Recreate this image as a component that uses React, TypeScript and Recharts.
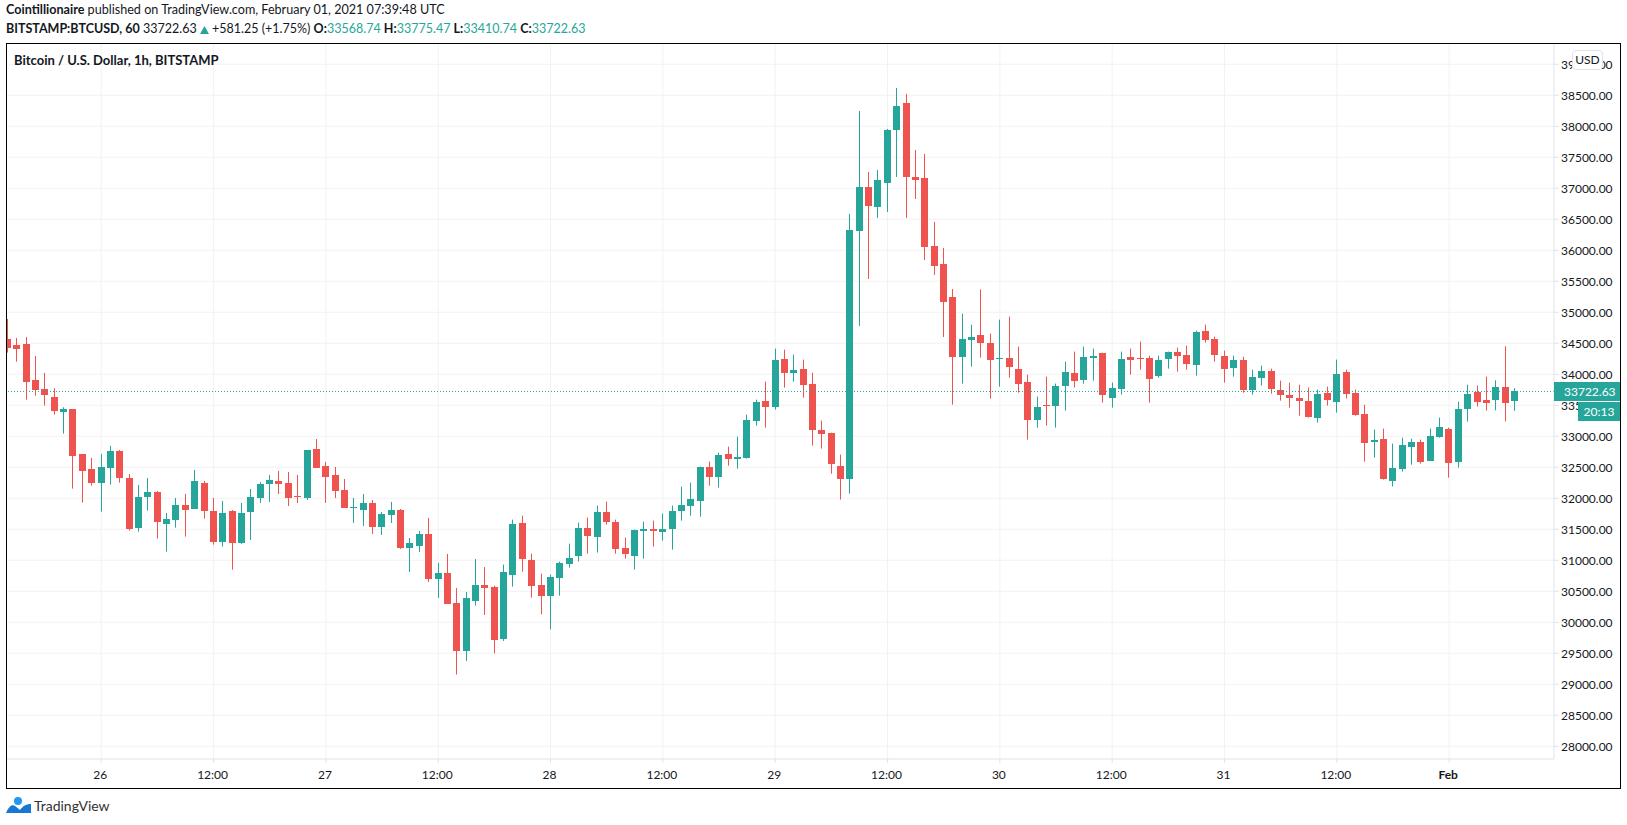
import React from 'react';
import { Bar, CartesianGrid, ComposedChart, ReferenceLine, XAxis, YAxis } from 'recharts';

const opens = [
  34570, 34473, 34489, 33909, 33763, 33634, 33398, 33441, 32715, 32473,
  32253, 32495, 32764, 32328, 31527, 32027, 32102, 31592, 31656, 31893,
  31834, 32247, 31796, 31301, 31796, 31280, 31780, 32005, 32231, 32280,
  32247, 32038, 32005, 32796, 32522, 32376, 32134, 31844, 31812, 31925,
  31538, 31731, 31812, 31199, 31231, 31425, 30699, 30796, 30312, 29538,
  30344, 30602, 30575, 29726, 30769, 31608, 31011, 30608, 30430, 30721,
  30947, 31075, 31527, 31382, 31785, 31624, 31204, 31075, 31479, 31511,
  31463, 31511, 31801, 31882, 31963, 32511, 32350, 32720, 32640, 32656,
  33253, 33575, 33479, 34253, 34027, 34091, 33849, 33108, 33059, 32527,
  32317, 36312, 37022, 36699, 37086, 37941, 38376, 37183, 37167, 36070,
  35780, 35247, 34274, 34559, 34640, 34511, 34253, 34269, 34091, 33882,
  33269, 33511, 33495, 33817, 34027, 33914, 34269, 34349, 33624, 33769,
  34285, 34269, 34269, 33978, 34253, 34366, 34317, 34156, 34704, 34575,
  34301, 34108, 34237, 33753, 33946, 34059, 33753, 33672, 33624, 33575,
  33301, 33704, 33559, 34043, 33704, 33366, 32914, 32962, 32280, 32479,
  32833, 32914, 32608, 32995, 33124, 32591, 33446, 33720, 33591, 33591,
  33790, 33568.74,
];

const closes = [
  34430, 34414, 33882, 33753, 33672, 33414, 33441, 32688, 32446, 32253,
  32506, 32764, 32333, 31511, 32022, 32102, 31624, 31667, 31893, 31817,
  32280, 31801, 31301, 31764, 31285, 31764, 32022, 32231, 32296, 32231,
  32005, 32022, 32780, 32495, 32344, 32118, 31844, 31860, 31925, 31538,
  31747, 31812, 31199, 31280, 31425, 30699, 30796, 30296, 29538, 30393,
  30602, 30554, 29710, 30817, 31592, 31027, 30592, 30430, 30737, 30963,
  31043, 31527, 31398, 31785, 31624, 31188, 31108, 31495, 31511, 31479,
  31511, 31801, 31898, 31995, 32511, 32350, 32705, 32640, 32672, 33269,
  33559, 33479, 34237, 34027, 34075, 33833, 33108, 33043, 32559, 32317,
  36328, 37022, 36715, 37134, 37941, 38328, 37183, 37134, 36054, 35747,
  35167, 34274, 34575, 34608, 34511, 34237, 34269, 34124, 33850, 33269,
  33479, 33495, 33817, 34043, 33898, 34285, 34301, 33672, 33785, 34253,
  34237, 34253, 33930, 34237, 34366, 34301, 34172, 34688, 34559, 34317,
  34091, 34237, 33753, 33962, 34059, 33769, 33672, 33624, 33575, 33317,
  33688, 33591, 34011, 33688, 33350, 32898, 32946, 32317, 32495, 32866,
  32914, 32591, 33011, 33156, 32575, 33446, 33688, 33559, 33543, 33790,
  33538, 33722.63,
];

const highs = [
  34892, 34586, 34602, 34296, 34022, 33774, 33468, 33441, 32715, 32651,
  32715, 32844, 32780, 32393, 32215, 32328, 32118, 31764, 32005, 32070,
  32457, 32280, 32005, 31957, 31812, 31925, 32151, 32263, 32376, 32441,
  32425, 32376, 32780, 32957, 32586, 32505, 32312, 32005, 32070, 31973,
  31780, 31941, 31828, 31360, 31473, 31683, 30957, 31102, 30554, 30490,
  31021, 30892, 30592, 30930, 31656, 31720, 31108, 30785, 30769, 30979,
  31269, 31608, 31688, 31882, 31946, 31656, 31366, 31495, 31624, 31640,
  31753, 31882, 32188, 32253, 32511, 32592, 32737, 32833, 32995, 33350,
  33591, 33882, 34414, 34398, 34317, 34237, 34027, 33253, 33059, 32704,
  36586, 38247, 37264, 37296, 37957, 38618, 38522, 37618, 37554, 36457,
  36038, 35376, 34978, 34801, 35367, 34656, 34882, 34930, 34446, 33995,
  33640, 33962, 33850, 34204, 34366, 34446, 34414, 34349, 33866, 34366,
  34414, 34527, 34301, 34301, 34366, 34430, 34462, 34704, 34801, 34608,
  34382, 34301, 34285, 34075, 34140, 34091, 33898, 33866, 33833, 33785,
  33753, 33801, 34237, 34075, 33753, 33511, 33108, 33124, 32882, 32978,
  32962, 32946, 33124, 33301, 33140, 33559, 33833, 33817, 33962, 33903,
  34452, 33775.47,
];

const lows = [
  34350, 34204, 33591, 33656, 33495, 33350, 33043, 32156, 31930, 32204,
  31785, 32221, 32253, 31479, 31463, 31801, 31350, 31140, 31527, 31382,
  31834, 31672, 31253, 31221, 30850, 31264, 31328, 31925, 31941, 32070,
  31876, 31925, 31973, 32495, 31925, 32005, 31844, 31602, 31554, 31425,
  31409, 31602, 31183, 30812, 31134, 30651, 30393, 30296, 29158, 29376,
  30269, 30118, 29500, 29700, 30575, 30817, 30398, 30129, 29887, 30430,
  30882, 30979, 31108, 31124, 31575, 31108, 31027, 30850, 31027, 31221,
  31317, 31172, 31640, 31720, 31704, 32204, 32172, 32527, 32479, 32640,
  33172, 33140, 33430, 33785, 33882, 33624, 32850, 32801, 32398, 31979,
  32075, 34780, 35538, 36522, 36618, 37183, 36522, 36828, 35844, 35602,
  34602, 33511, 33850, 34124, 34269, 33608, 33800, 33946, 33704, 32946,
  33140, 33172, 33140, 33414, 33785, 33850, 33898, 33543, 33462, 33672,
  33995, 34075, 33543, 33946, 34091, 34043, 34075, 33978, 34511, 34204,
  33866, 33962, 33704, 33672, 33817, 33688, 33575, 33462, 33333, 33301,
  33220, 33495, 33382, 33608, 33333, 32591, 32656, 32301, 32190, 32430,
  32543, 32559, 32608, 32978, 32333, 32495, 33237, 33479, 33414, 33419,
  33242, 33410.74,
];

// one label every 12 candles, starting at Jan 26 00:00
const timeTicks = [10, 22, 34, 46, 58, 70, 82, 94, 106, 118, 130, 142, 154];
const timeLabels = ['26', '12:00', '27', '12:00', '28', '12:00', '29', '12:00', '30', '12:00', '31', '12:00', 'Feb'];
const priceTicks = [
  28000, 28500, 29000, 29500, 30000, 30500, 31000, 31500, 32000, 32500, 33000, 33500,
  34000, 34500, 35000, 35500, 36000, 36500, 37000, 37500, 38000, 38500, 39000,
];
const lastPrice = 33722.63;

const UP = '#26A69A';
const DOWN = '#EF5350';
const FONT = 'Lato, sans-serif';
const TEXT = '#131722';

const rows = opens.map((open, i) => ({
  idx: i,
  open,
  close: closes[i],
  high: highs[i],
  low: lows[i],
  wick: [lows[i], highs[i]],
}));

const Candle = (props: any) => {
  const { x, y, width, height, payload } = props;
  const perUnit = height / (payload.high - payload.low);
  const cx = Math.floor(x + width / 2);
  const bodyTop = Math.round(y + (payload.high - Math.max(payload.open, payload.close)) * perUnit);
  const bodyBottom = Math.round(y + (payload.high - Math.min(payload.open, payload.close)) * perUnit);
  const color = payload.close >= payload.open ? UP : DOWN;
  return (
    <g>
      <rect x={cx} y={y} width={1} height={height} fill={color} />
      <rect x={cx - 3} y={bodyTop} width={7} height={Math.max(bodyBottom - bodyTop, 1)} fill={color} />
    </g>
  );
};

const TimeTick = (props: any) => {
  const { x, y, payload } = props;
  const label = timeLabels[timeTicks.indexOf(payload.value)];
  return (
    <text x={x - 1} y={y + 14} textAnchor="middle" fontFamily={FONT} fontSize={12} fontWeight={label === 'Feb' ? 700 : 400} fill={TEXT}>
      {label}
    </text>
  );
};

const tagStyle: React.CSSProperties = {
  position: 'absolute',
  height: 19,
  background: UP,
  color: '#fff',
  fontSize: 12,
  lineHeight: '19px',
  whiteSpace: 'nowrap',
};

export default function App() {
  return (
    <div style={{ position: 'absolute', left: 0, top: 0, width: 1627, height: 825, background: '#fff', fontFamily: FONT, color: TEXT }}>
      <div style={{ position: 'absolute', left: 6, top: 1, fontSize: 12.6, lineHeight: '18px', whiteSpace: 'nowrap' }}>
        <b>Cointillionaire</b> published on TradingView.com, February 01, 2021 07:39:48 UTC
      </div>
      <div style={{ position: 'absolute', left: 6, top: 20, fontSize: 12.5, lineHeight: '18px', whiteSpace: 'nowrap' }}>
        <b>BITSTAMP:BTCUSD, 60</b> 33722.63{' '}
        <svg width={9} height={8} style={{ verticalAlign: -0.5 }}>
          <path d="M4.5 0 L9 8 L0 8 Z" fill={UP} />
        </svg>{' '}
        +581.25 (+1.75%) <b>O:</b><span style={{ color: UP }}>33568.74</span> <b>H:</b><span style={{ color: UP }}>33775.47</span>{' '}
        <b>L:</b><span style={{ color: UP }}>33410.74</span> <b>C:</b><span style={{ color: UP }}>33722.63</span>
      </div>

      <div style={{ position: 'absolute', left: 0, top: 0 }}>
        <ComposedChart width={1627} height={825} data={rows} margin={{ top: 44, left: 7, right: 7, bottom: 37 }}>
          <CartesianGrid stroke="#F2F2F2" horizontalValues={priceTicks} verticalValues={timeTicks} />
          <XAxis
            dataKey="idx"
            type="number"
            domain={[-0.07, 165.2]}
            allowDataOverflow
            ticks={timeTicks}
            interval={0}
            height={29}
            stroke="#E0E3EB"
            tickSize={4}
            tick={<TimeTick />}
          />
          <YAxis
            orientation="right"
            domain={[27795, 39327]}
            allowDataOverflow
            ticks={priceTicks}
            interval={0}
            width={66}
            stroke="#E0E3EB"
            tickSize={5}
            tickFormatter={(v: number) => v.toFixed(2)}
            tick={{ fontFamily: FONT, fontSize: 12, fill: TEXT }}
          />
          <ReferenceLine y={lastPrice} stroke={UP} strokeDasharray="1 2" />
          <Bar dataKey="wick" barSize={7} shape={<Candle />} isAnimationActive={false} />
        </ComposedChart>
      </div>

      <div style={{ ...tagStyle, left: 1554, top: 382, width: 66, paddingLeft: 10, boxSizing: 'border-box' }}>{lastPrice.toFixed(2)}</div>
      <div style={{ ...tagStyle, left: 1578, top: 402, width: 42, textAlign: 'center' }}>20:13</div>

      <div style={{ position: 'absolute', left: 14, top: 51, fontSize: 13, fontWeight: 700, lineHeight: '18px' }}>
        Bitcoin / U.S. Dollar, 1h, BITSTAMP
      </div>
      <div style={{ position: 'absolute', left: 1572, top: 50, width: 31, height: 20, boxSizing: 'border-box', border: '1px solid #E0E3EB', borderRadius: 4, background: '#fff', fontSize: 12, lineHeight: '17px', textAlign: 'center' }}>
        USD
      </div>
      <div style={{ position: 'absolute', left: 6, top: 43, width: 1615, height: 746, boxSizing: 'border-box', border: '1px solid #000' }} />

      <svg style={{ position: 'absolute', left: 6, top: 796 }} width={26} height={20}>
        <circle cx={12} cy={5} r={4} fill="#2196F3" />
        <path d="M0 17 C3 10 6 8 9 10 L14 14 C17 10 20 8 25 8 L25 17 Z" fill="#1976D2" />
      </svg>
      <div style={{ position: 'absolute', left: 34, top: 797, fontSize: 14, lineHeight: '18px', color: '#333' }}>TradingView</div>
    </div>
  );
}
